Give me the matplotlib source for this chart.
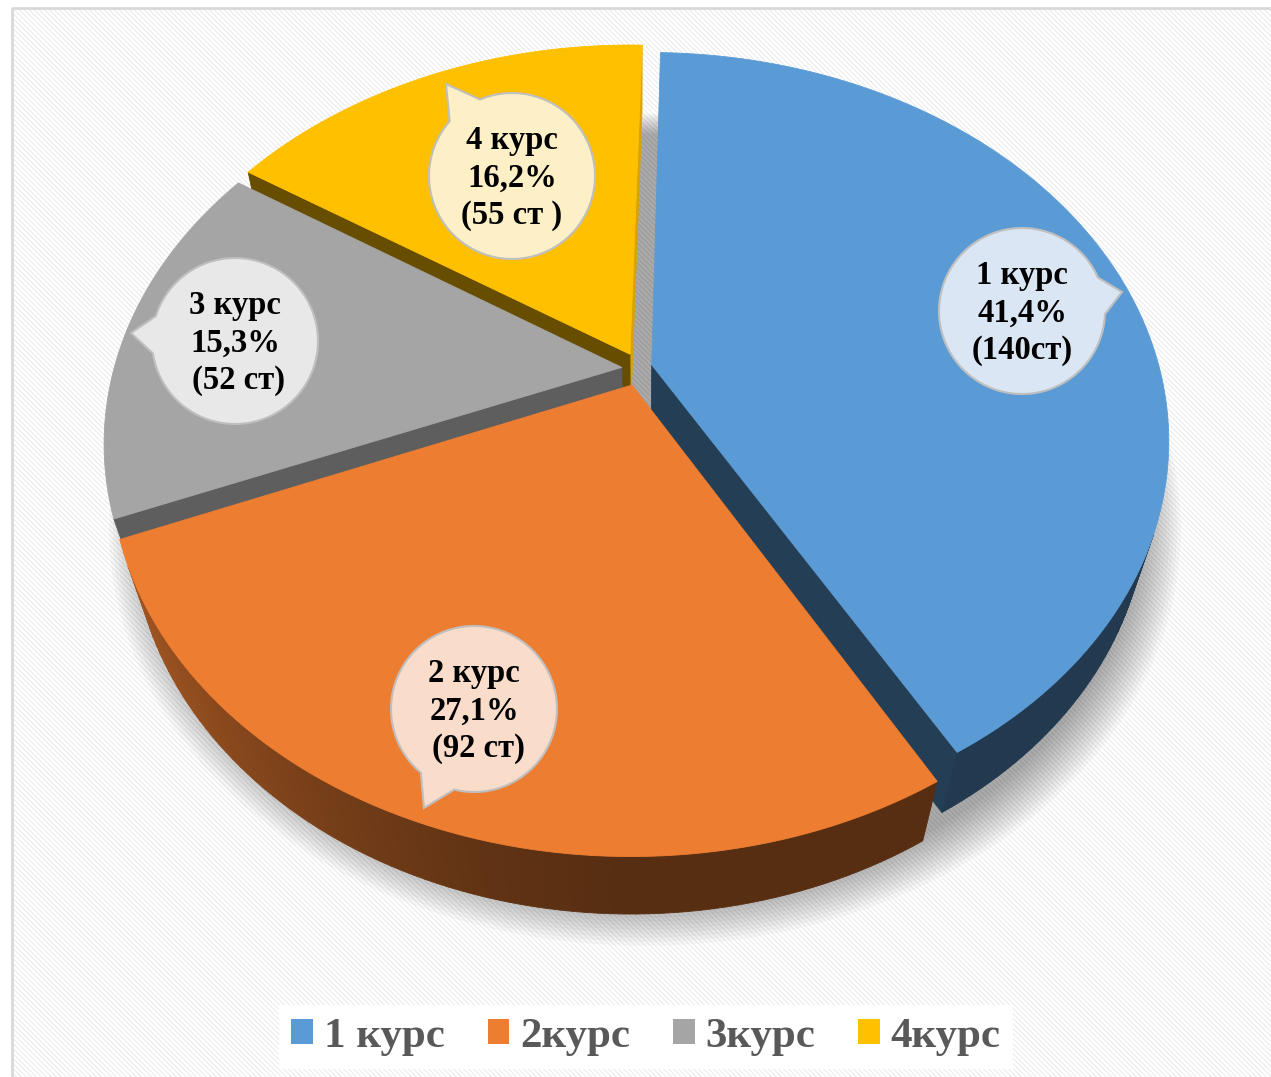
import numpy as np
import matplotlib
matplotlib.use("Agg")
import matplotlib.pyplot as plt
from matplotlib.patches import Polygon, Patch
from matplotlib.colors import to_rgb

W, H = 1271, 1077

# data
courses = ["1 курс", "2 курс", "3 курс", "4 курс"]
legend_labels = ["1 курс", "2курс", "3курс", "4курс"]
students = [140, 92, 52, 55]
pct_labels = ["41,4%", "27,1%", "15,3%", "16,2%"]
count_labels = ["(140ст)", " (92 ст)", " (52 ст)", "(55 ст )"]

TOP = ["#5B9BD5", "#ED7D31", "#A5A5A5", "#FFC000"]
BUBBLE = ["#DAE6F3", "#FADCCB", "#E8E8E8", "#FEF0C6"]
SERIF = ["Liberation Serif", "DejaVu Serif"]

# simple perspective camera for the 3-D pie
E = np.radians(47.4)
DIST, FOC = 3.52, 1788
CX, CY = 637, 369
THICK = 0.2
EXP_X, EXP_Z = 0.03, 0.045   # slice explosion (world units)
START = 1.5                  # first slice starts just right of 12 o'clock
CAM = np.array([0.0, DIST * np.sin(E), -DIST * np.cos(E)])


def proj(X, Y, Z):
    yc = Y * np.cos(E) + Z * np.sin(E)
    zc = -Y * np.sin(E) + Z * np.cos(E) + DIST
    return CX + FOC * X / zc, CY - FOC * yc / zc, zc


def shade(c, k):
    return tuple(np.clip(np.array(to_rgb(c)) * k, 0, 1))


def visible(n, p):
    return np.dot(n, CAM - p) > 0


fig = plt.figure(figsize=(W / 100, H / 100), dpi=100)
ax = fig.add_axes([0, 0, 1, 1])

# striped background + frame
yy, xx = np.mgrid[0:H - 8, 0:W - 12]
st = ((xx - yy) % 5) < 2
bg = np.where(st[..., None], np.array([0.945, 0.945, 0.945]), np.array([1.0, 1.0, 1.0]))
ax.imshow(bg, extent=(12, W, H, 8), interpolation="nearest", zorder=0, aspect="auto")
ax.plot([12, 12, W], [H, 8, 8], color="#D9D9D9", lw=2, zorder=1)

# soft shadow under the pie
t = np.radians(np.linspace(0, 360, 200))
for k in range(12):
    r = 1.0 + 0.007 * k
    sx, sy, _ = proj(r * np.sin(t), -THICK * np.ones_like(t), r * np.cos(t))
    ax.add_patch(Polygon(np.c_[sx + 8, sy + 12], closed=True, facecolor="black",
                         edgecolor="none", alpha=0.03, zorder=2))

total = sum(students)
bounds = START + np.concatenate([[0], np.cumsum(students) / total * 360])

faces = []
tops = []
for i, col in enumerate(TOP):
    a, b = bounds[i], bounds[i + 1]
    m = np.radians((a + b) / 2)
    ox, oz = EXP_X * np.sin(m), EXP_Z * np.cos(m)
    n = max(10, int((b - a) / 1.2))
    th = np.radians(np.linspace(a, b, n))
    rx, rz = ox + np.sin(th), oz + np.cos(th)
    # top face
    px, py, _ = proj(np.r_[ox, rx], np.zeros(n + 1), np.r_[oz, rz])
    tops.append((np.c_[px, py], col))
    # outer wall
    for j in range(n - 1):
        tm = (th[j] + th[j + 1]) / 2
        nrm = np.array([np.sin(tm), 0, np.cos(tm)])
        P = np.array([ox + np.sin(tm), -THICK / 2, oz + np.cos(tm)])
        if not visible(nrm, P):
            continue
        X = np.array([rx[j], rx[j + 1], rx[j + 1], rx[j]])
        Z = np.array([rz[j], rz[j + 1], rz[j + 1], rz[j]])
        Y = np.array([0, 0, -THICK, -THICK])
        qx, qy, qz = proj(X, Y, Z)
        k = 0.37 + 0.36 * max(0.0, -nrm[0]) ** 1.5
        faces.append((qz.mean(), np.c_[qx, qy], shade(col, k)))
    # radial walls
    for ang, sgn in ((a, -1), (b, 1)):
        ar = np.radians(ang)
        nrm = sgn * np.array([np.cos(ar), 0, -np.sin(ar)])
        P = np.array([ox + 0.5 * np.sin(ar), -THICK / 2, oz + 0.5 * np.cos(ar)])
        if not visible(nrm, P):
            continue
        X = np.array([ox, ox + np.sin(ar), ox + np.sin(ar), ox])
        Z = np.array([oz, oz + np.cos(ar), oz + np.cos(ar), oz])
        Y = np.array([0, 0, -THICK, -THICK])
        qx, qy, qz = proj(X, Y, Z)
        k = 0.40 + 0.45 * max(0.0, nrm[0])
        faces.append((qz.mean(), np.c_[qx, qy], shade(col, k)))

for d, xy, c in sorted(faces, key=lambda f: -f[0]):
    ax.add_patch(Polygon(xy, closed=True, facecolor=c, edgecolor=c, lw=0.6, zorder=3))
for xy, c in tops:
    ax.add_patch(Polygon(xy, closed=True, facecolor=c, edgecolor=c, lw=0.6, zorder=4))

# callout bubbles
bub_center = [(1022, 311), (474, 709), (235, 341), (512, 176)]
bub_tip = [(1122, 292), (424, 808), (131, 333), (446, 84)]
R_B = 83
for i in range(4):
    cx, cy = bub_center[i]
    tx, ty = bub_tip[i]
    phi = np.arctan2(ty - cy, tx - cx)
    dl = np.radians(13)
    ang = np.linspace(phi + dl, phi + 2 * np.pi - dl, 120)
    pts = np.c_[cx + R_B * np.cos(ang), cy + R_B * np.sin(ang)]
    pts = np.vstack([pts, [tx, ty]])
    ax.add_patch(Polygon(pts, closed=True, facecolor=BUBBLE[i], edgecolor="#BFBFBF",
                         lw=1.5, zorder=5))
    ax.text(cx, cy + 2, f"{courses[i]}\n{pct_labels[i]}\n{count_labels[i]}",
            ha="center", va="center", multialignment="center", fontsize=23.5,
            fontweight="bold", family=SERIF, linespacing=1.25, color="black", zorder=6)

# legend
handles = [Patch(facecolor=c, edgecolor="none") for c in TOP]
leg = ax.legend(handles, legend_labels, loc="center", bbox_to_anchor=(646, 1037),
                bbox_transform=ax.transData, ncol=4, frameon=True, fancybox=False,
                edgecolor="none", facecolor="white", framealpha=1,
                prop={"family": SERIF, "weight": "bold", "size": 31},
                labelcolor="#595959", handlelength=0.5, handleheight=0.5,
                handletextpad=0.25, columnspacing=1.0, borderpad=0.3)
leg.set_zorder(7)

ax.set_xlim(0, W)
ax.set_ylim(H, 0)
ax.axis("off")
fig.savefig("out.png", dpi=100)
